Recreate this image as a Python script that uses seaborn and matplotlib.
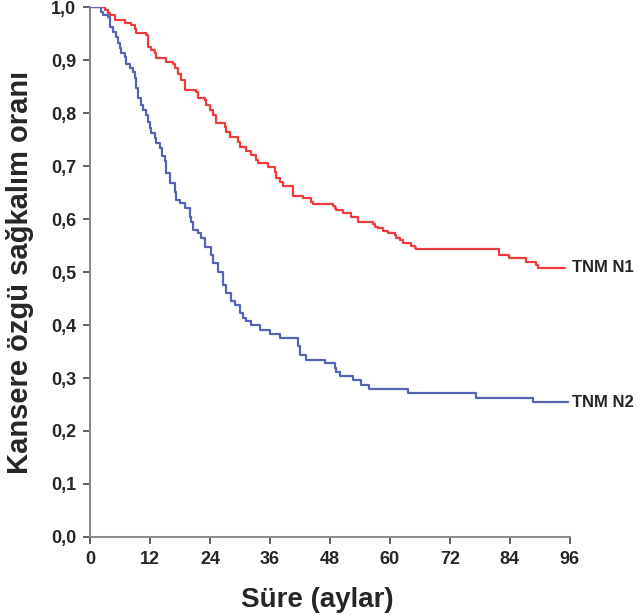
import pandas as pd
import numpy as np
import seaborn as sns
import matplotlib.pyplot as plt

# Kaplan-Meier adımları (ay, sağkalım oranı)
n1_months = [0, 3, 3.7, 4, 5, 7, 8.3, 9, 9.3, 11.3,
             11.7, 12.3, 13, 13.3, 15.3, 16.7, 17, 17.7, 18.3, 19,
             21.3, 21.7, 23, 23.3, 24, 24.7, 25.3, 27, 27.3, 28,
             29.7, 30, 31.3, 32.3, 33.3, 33.7, 35.7, 37, 37.3, 38,
             38.7, 40.7, 42.7, 44.3, 44.7, 48.7, 49, 49.3, 50.7, 52.3,
             53.7, 56.7, 57, 57.7, 58.7, 59.7, 61, 61.3, 62, 62.7,
             64.3, 65, 65.3, 81.8, 83.8, 87.3, 89.3, 89.7, 95]
n1_surv = [1.0, 0.995, 0.989, 0.985, 0.976, 0.970, 0.967, 0.960, 0.951, 0.948,
           0.926, 0.919, 0.913, 0.904, 0.897, 0.894, 0.885, 0.875, 0.863, 0.844,
           0.841, 0.828, 0.825, 0.816, 0.806, 0.797, 0.781, 0.775, 0.765, 0.756,
           0.746, 0.737, 0.728, 0.721, 0.712, 0.706, 0.699, 0.690, 0.677, 0.671,
           0.662, 0.643, 0.640, 0.633, 0.629, 0.624, 0.621, 0.618, 0.611, 0.605,
           0.595, 0.591, 0.586, 0.583, 0.577, 0.574, 0.570, 0.564, 0.561, 0.555,
           0.550, 0.545, 0.543, 0.533, 0.526, 0.520, 0.514, 0.508, 0.508]

n2_months = [0, 2.3, 2.7, 3.7, 4, 4.7, 5.3, 5.7, 6, 6.3,
             7, 7.3, 8, 8.7, 9, 9.3, 9.7, 10.3, 10.7, 11.3,
             11.7, 12, 12.3, 13, 13.3, 14, 14.5, 15, 15.3, 16,
             17, 17.3, 18, 19, 20, 20.3, 20.7, 21.7, 22.3, 23,
             24.3, 24.7, 25.7, 26.7, 27.3, 28.3, 29, 30, 30.7, 31.3,
             32.3, 34, 36, 38, 41.7, 42, 43.3, 47, 49, 49.3,
             50, 52.7, 54.3, 55.9, 63.7, 77.3, 88.7, 95.7]
n2_surv = [1.0, 0.992, 0.985, 0.982, 0.963, 0.954, 0.945, 0.932, 0.923, 0.913,
           0.907, 0.894, 0.885, 0.878, 0.866, 0.847, 0.828, 0.816, 0.806, 0.797,
           0.784, 0.772, 0.762, 0.753, 0.743, 0.734, 0.720, 0.709, 0.687, 0.668,
           0.652, 0.636, 0.630, 0.621, 0.605, 0.595, 0.580, 0.574, 0.564, 0.548,
           0.533, 0.517, 0.501, 0.476, 0.460, 0.445, 0.438, 0.423, 0.413, 0.407,
           0.401, 0.391, 0.384, 0.375, 0.360, 0.344, 0.335, 0.328, 0.319, 0.312,
           0.303, 0.296, 0.287, 0.279, 0.272, 0.262, 0.254, 0.254]

groups = ['TNM N1', 'TNM N2']
colors = {'TNM N1': '#ee3b3b', 'TNM N2': '#5563b4'}
x_ticks = [0, 12, 24, 36, 48, 60, 72, 84, 96]
y_ticks = [0.0, 0.1, 0.2, 0.3, 0.4, 0.5, 0.6, 0.7, 0.8, 0.9, 1.0]

df = pd.concat([
    pd.DataFrame({'ay': n1_months, 'oran': n1_surv, 'grup': 'TNM N1'}),
    pd.DataFrame({'ay': n2_months, 'oran': n2_surv, 'grup': 'TNM N2'}),
], ignore_index=True)

sns.set_style('white')
plt.rcParams['font.family'] = ['Liberation Sans', 'DejaVu Sans']
plt.rcParams['font.weight'] = 'bold'

fig = plt.figure(figsize=(6.38, 6.15), dpi=100)
ax = fig.add_axes([0.141, 0.127, 0.752, 0.861])

for g in groups:
    sub = df[df['grup'] == g]
    sns.lineplot(data=sub, x='ay', y='oran', ax=ax, color=colors[g],
                 drawstyle='steps-post', estimator=None, sort=False,
                 linewidth=1.6, legend=False)
    # grup etiketi eğrinin sonunda, eksenin hemen sağında
    ax.text(96.4, sub['oran'].iloc[-1], g,
            fontsize=12, fontweight='bold', va='center', ha='left', clip_on=False)

ax.set_xlim(0, 96)
ax.set_ylim(0, 1.0)
ax.set_xticks(x_ticks)
ax.set_yticks(y_ticks)
ax.set_xticklabels([str(t) for t in x_ticks], fontsize=13, fontweight='bold')
ax.set_yticklabels([f'{t:.1f}'.replace('.', ',') for t in y_ticks],
                   fontsize=13, fontweight='bold')
ax.tick_params(axis='both', direction='out', length=5, width=1.2,
               color='#444444', pad=5, bottom=True, left=True)

for s in ['top', 'right']:
    ax.spines[s].set_visible(False)
for s in ['left', 'bottom']:
    ax.spines[s].set_color('#8c8c8c')
    ax.spines[s].set_linewidth(1.5)

ax.set_xlabel('Süre (aylar)', fontsize=20, fontweight='bold', labelpad=14)
ax.xaxis.label.set_x(0.473)
ax.set_ylabel('Kansere özgü sağkalım oranı', fontsize=21, fontweight='bold', labelpad=12)

fig.savefig('out.png', dpi=100)
